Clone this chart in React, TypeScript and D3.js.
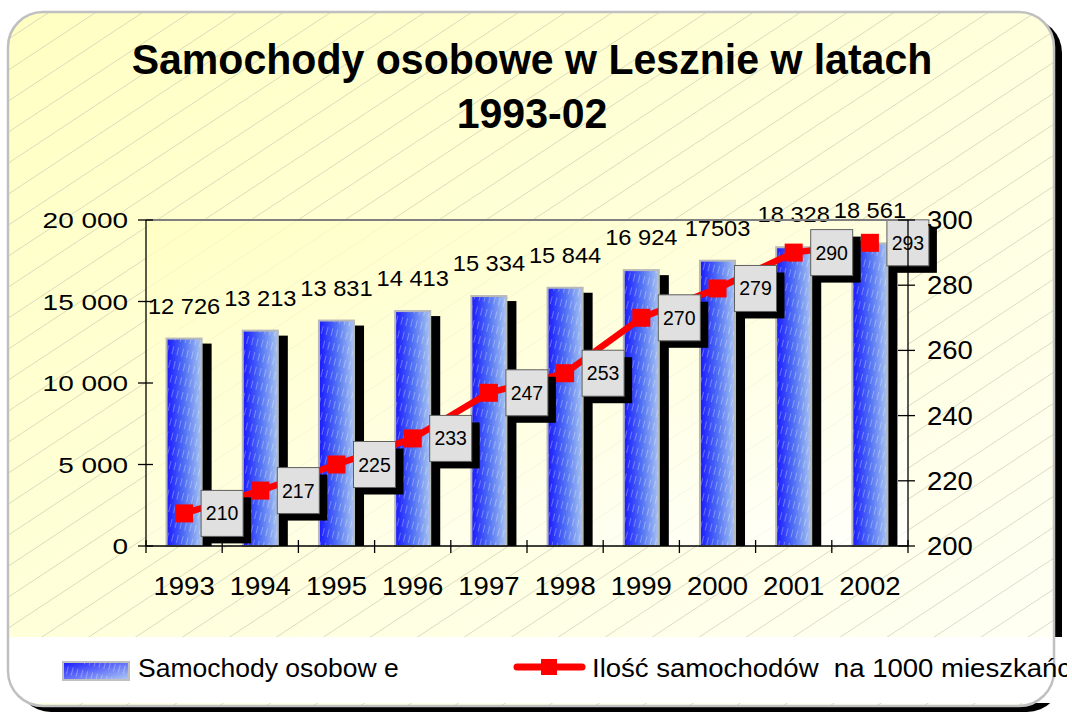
import React, { useEffect, useRef } from "react";
import * as d3 from "d3";

const years = ["1993", "1994", "1995", "1996", "1997", "1998", "1999", "2000", "2001", "2002"];
const cars = [12726, 13213, 13831, 14413, 15334, 15844, 16924, 17503, 18328, 18561];
const carLabels = ["12 726", "13 213", "13 831", "14 413", "15 334", "15 844", "16 924", "17503", "18 328", "18 561"];
const perThousand = [210, 217, 225, 233, 247, 253, 270, 279, 290, 293];
const leftTicks = [0, 5000, 10000, 15000, 20000];
const rightTicks = [200, 220, 240, 260, 280, 300];

const titleLines = ["Samochody osobowe w Lesznie w latach", "1993-02"];
const legendBars = "Samochody osobow e";
const legendLine = "Ilość samochodów  na 1000 mieszkańców";

const App = () => {
  const chartRef = useRef<SVGSVGElement>(null);

  useEffect(() => {
    const svg = d3.select(chartRef.current);
    svg.selectAll("*").remove();

    const width = 1072;
    const height = 715;
    const font = "'Liberation Sans', Arial, Helvetica, sans-serif";
    const plot = { left: 146, right: 908, top: 220, bottom: 546 };
    const frame = { x: 8, y: 12, w: 1046, h: 694, r: 35 };

    svg.attr("width", width).attr("height", height);

    const defs = svg.append("defs");

    const frameBg = defs.append("linearGradient").attr("id", "frameBg")
      .attr("x1", 0).attr("y1", 0).attr("x2", 1).attr("y2", 1);
    frameBg.append("stop").attr("offset", 0).attr("stop-color", "#ffffc2");
    frameBg.append("stop").attr("offset", 1).attr("stop-color", "#fffff6");

    const plotBg = defs.append("linearGradient").attr("id", "plotBg")
      .attr("x1", 0).attr("y1", 0).attr("x2", 1).attr("y2", 1);
    plotBg.append("stop").attr("offset", 0).attr("stop-color", "#ffffc4");
    plotBg.append("stop").attr("offset", 1).attr("stop-color", "#fffffc");

    const barGrad = defs.append("linearGradient").attr("id", "barGrad")
      .attr("x1", 0).attr("y1", 0).attr("x2", 1).attr("y2", 0);
    barGrad.append("stop").attr("offset", 0).attr("stop-color", "#1818ff");
    barGrad.append("stop").attr("offset", 0.5).attr("stop-color", "#5070f4");
    barGrad.append("stop").attr("offset", 1).attr("stop-color", "#a8c4f0");

    const legGrad = defs.append("linearGradient").attr("id", "legGrad")
      .attr("x1", 0).attr("y1", 0).attr("x2", 1).attr("y2", 1);
    legGrad.append("stop").attr("offset", 0).attr("stop-color", "#1818ff");
    legGrad.append("stop").attr("offset", 1).attr("stop-color", "#b0ccf2");

    const streaks = defs.append("pattern").attr("id", "streaks")
      .attr("patternUnits", "userSpaceOnUse")
      .attr("width", 5).attr("height", 14)
      .attr("patternTransform", "rotate(14)");
    streaks.append("rect").attr("x", 2).attr("y", 0).attr("width", 0.9).attr("height", 8)
      .attr("fill", "#ffffff").attr("opacity", 0.35);

    defs.append("clipPath").attr("id", "frameClip")
      .append("rect").attr("x", frame.x).attr("y", frame.y)
      .attr("width", frame.w).attr("height", frame.h).attr("rx", frame.r);
    defs.append("clipPath").attr("id", "plotClip")
      .append("rect").attr("x", plot.left).attr("y", plot.top)
      .attr("width", plot.right - plot.left).attr("height", plot.bottom - plot.top);
    defs.append("clipPath").attr("id", "legendClip")
      .append("rect").attr("x", 0).attr("y", 600).attr("width", 1067).attr("height", 115);

    // diagonal hatch, ~31px apart vertically, rising to the right
    const hatchOffsets = d3.range(-2, 60).map((k) => 13.6 + k * 31);
    const drawHatch = (clip: string, opacity: number) => {
      svg.append("g").attr("clip-path", `url(#${clip})`).attr("opacity", opacity)
        .selectAll("line")
        .data(hatchOffsets)
        .enter()
        .append("line")
        .attr("x1", 0).attr("x2", width)
        .attr("y1", (d) => d).attr("y2", (d) => d - 0.66 * width)
        .attr("stroke", "#c2c2b0").attr("stroke-width", 0.6);
    };

    // outer frame
    svg.append("rect").attr("x", frame.x + 8).attr("y", frame.y + 6)
      .attr("width", frame.w).attr("height", frame.h).attr("rx", frame.r)
      .attr("fill", "#000");
    svg.append("rect").attr("x", frame.x).attr("y", frame.y)
      .attr("width", frame.w).attr("height", frame.h).attr("rx", frame.r)
      .attr("fill", "url(#frameBg)");
    drawHatch("frameClip", 1);

    // legend band
    svg.append("rect").attr("x", frame.x + 1).attr("y", 637)
      .attr("width", width - frame.x).attr("height", 66).attr("fill", "#fff");

    svg.append("rect").attr("x", frame.x).attr("y", frame.y)
      .attr("width", frame.w).attr("height", frame.h).attr("rx", frame.r)
      .attr("fill", "none").attr("stroke", "#c0c0c0").attr("stroke-width", 2.5);

    // title
    svg.selectAll(".title")
      .data(titleLines)
      .enter()
      .append("text")
      .attr("transform", (d, i) => `translate(532,${74 + i * 54}) scale(0.955,1)`)
      .attr("text-anchor", "middle")
      .attr("font-family", font)
      .attr("font-weight", "bold")
      .attr("font-size", 43)
      .text((d) => d);

    const x = d3.scaleBand().domain(years).range([plot.left, plot.right]).padding(0);
    const y = d3.scaleLinear().domain([0, 20000]).range([plot.bottom, plot.top]);
    const y2 = d3.scaleLinear().domain([200, 300]).range([plot.bottom, plot.top]);
    const cx = (d: string) => (x(d) as number) + x.bandwidth() / 2;
    const barW = x.bandwidth() * 0.46;

    // plot area
    svg.append("rect").attr("x", plot.left).attr("y", plot.top)
      .attr("width", plot.right - plot.left).attr("height", plot.bottom - plot.top)
      .attr("fill", "url(#plotBg)");
    drawHatch("plotClip", 0.22);

    // bar shadows
    svg.selectAll(".barShadow")
      .data(years)
      .enter()
      .append("rect")
      .attr("x", (d) => cx(d) - barW / 2 + 10)
      .attr("y", (d, i) => y(cars[i]) + 5)
      .attr("width", barW)
      .attr("height", (d, i) => plot.bottom - y(cars[i]) - 5)
      .attr("fill", "#000");

    const bars = svg.selectAll(".bar")
      .data(years)
      .enter();
    bars.append("rect")
      .attr("x", (d) => cx(d) - barW / 2)
      .attr("y", (d, i) => y(cars[i]))
      .attr("width", barW)
      .attr("height", (d, i) => plot.bottom - y(cars[i]))
      .attr("fill", "url(#barGrad)")
      .attr("stroke", "#b8b8b8")
      .attr("stroke-width", 2);
    bars.append("rect")
      .attr("x", (d) => cx(d) - barW / 2 + 1)
      .attr("y", (d, i) => y(cars[i]) + 1)
      .attr("width", barW - 2)
      .attr("height", (d, i) => plot.bottom - y(cars[i]) - 1)
      .attr("fill", "url(#streaks)");

    // bar value labels
    svg.selectAll(".barLabel")
      .data(years)
      .enter()
      .append("text")
      .attr("transform", (d, i) => `translate(${cx(d)},${y(cars[i]) - 25}) scale(1.1,1)`)
      .attr("text-anchor", "middle")
      .attr("font-family", font)
      .attr("font-size", 21.5)
      .text((d, i) => carLabels[i]);

    // line series
    const line = d3.line<string>()
      .x((d) => cx(d))
      .y((d, i) => y2(perThousand[i]));
    svg.append("path")
      .datum(years)
      .attr("d", line)
      .attr("fill", "none")
      .attr("stroke", "#ff0000")
      .attr("stroke-width", 6.5)
      .attr("stroke-linejoin", "round");
    svg.selectAll(".marker")
      .data(years)
      .enter()
      .append("rect")
      .attr("x", (d) => cx(d) - 9)
      .attr("y", (d, i) => y2(perThousand[i]) - 9)
      .attr("width", 18)
      .attr("height", 18)
      .attr("fill", "#ff0000");

    // boxed labels for line
    const boxW = 42;
    const boxH = 46;
    svg.selectAll(".boxShadow")
      .data(years)
      .enter()
      .append("rect")
      .attr("x", (d) => cx(d) + 17 + 8)
      .attr("y", (d, i) => y2(perThousand[i]) - boxH / 2 + 7)
      .attr("width", boxW)
      .attr("height", boxH)
      .attr("fill", "#000");
    svg.selectAll(".box")
      .data(years)
      .enter()
      .append("rect")
      .attr("x", (d) => cx(d) + 17)
      .attr("y", (d, i) => y2(perThousand[i]) - boxH / 2)
      .attr("width", boxW)
      .attr("height", boxH)
      .attr("fill", "#e0e0e0")
      .attr("stroke", "#606060")
      .attr("stroke-width", 1);
    svg.selectAll(".boxText")
      .data(years)
      .enter()
      .append("text")
      .attr("x", (d) => cx(d) + 17 + boxW / 2)
      .attr("y", (d, i) => y2(perThousand[i]) + 7)
      .attr("text-anchor", "middle")
      .attr("font-family", font)
      .attr("font-size", 19.5)
      .text((d, i) => perThousand[i]);

    // axes
    const axes = svg.append("g").attr("stroke", "#000").attr("stroke-width", 1.3);
    axes.append("line").attr("x1", plot.left).attr("x2", plot.right)
      .attr("y1", plot.top).attr("y2", plot.top).attr("stroke", "#808080").attr("stroke-width", 2);
    axes.append("line").attr("x1", plot.left).attr("x2", plot.left)
      .attr("y1", plot.top).attr("y2", plot.bottom);
    axes.append("line").attr("x1", plot.right).attr("x2", plot.right)
      .attr("y1", plot.top).attr("y2", plot.bottom);
    axes.append("line").attr("x1", plot.left).attr("x2", plot.right)
      .attr("y1", plot.bottom).attr("y2", plot.bottom);

    axes.selectAll(".lt").data(leftTicks).enter().append("line")
      .attr("x1", plot.left - 8).attr("x2", plot.left + 7)
      .attr("y1", (d) => y(d)).attr("y2", (d) => y(d));
    axes.selectAll(".rt").data(rightTicks).enter().append("line")
      .attr("x1", plot.right - 10).attr("x2", plot.right + 7)
      .attr("y1", (d) => y2(d)).attr("y2", (d) => y2(d));
    const xTicks = years.map((d) => x(d) as number).concat([plot.right]);
    axes.selectAll(".xt").data(xTicks).enter().append("line")
      .attr("x1", (d) => d).attr("x2", (d) => d)
      .attr("y1", plot.bottom - 6).attr("y2", plot.bottom + 7);

    const fmt = d3.formatLocale({ decimal: ",", thousands: " ", grouping: [3], currency: ["", ""] }).format(",");

    svg.selectAll(".ll").data(leftTicks).enter().append("text")
      .attr("transform", (d) => `translate(128,${y(d) + 8}) scale(1.27,1)`)
      .attr("text-anchor", "end")
      .attr("font-family", font)
      .attr("font-size", 22)
      .text((d) => fmt(d));

    svg.selectAll(".rl").data(rightTicks).enter().append("text")
      .attr("transform", (d) => `translate(927,${y2(d) + 9}) scale(1.1,1)`)
      .attr("font-family", font)
      .attr("font-size", 25)
      .text((d) => d);

    svg.selectAll(".xl").data(years).enter().append("text")
      .attr("transform", (d) => `translate(${cx(d)},595) scale(1.1,1)`)
      .attr("text-anchor", "middle")
      .attr("font-family", font)
      .attr("font-size", 25)
      .text((d) => d);

    // legend
    const legend = svg.append("g").attr("clip-path", "url(#legendClip)");
    legend.append("rect").attr("x", 63).attr("y", 662).attr("width", 66).attr("height", 18)
      .attr("fill", "url(#legGrad)").attr("stroke", "#c0c0c0").attr("stroke-width", 2);
    legend.append("rect").attr("x", 64).attr("y", 663).attr("width", 64).attr("height", 16)
      .attr("fill", "url(#streaks)");
    legend.append("text").attr("x", 138).attr("y", 677)
      .attr("font-family", font).attr("font-size", 26.5)
      .style("white-space", "pre").text(legendBars);

    legend.append("line").attr("x1", 517).attr("x2", 582).attr("y1", 667).attr("y2", 667)
      .attr("stroke", "#ff0000").attr("stroke-width", 7).attr("stroke-linecap", "round");
    legend.append("rect").attr("x", 541).attr("y", 659).attr("width", 16).attr("height", 16)
      .attr("fill", "#ff0000");
    legend.append("text").attr("transform", "translate(592,677) scale(1.04,1)")
      .attr("font-family", font).attr("font-size", 26.5)
      .style("white-space", "pre").text(legendLine);
  }, []);

  return <svg ref={chartRef} style={{ position: "absolute", left: 0, top: 0 }}></svg>;
};

export default App;
